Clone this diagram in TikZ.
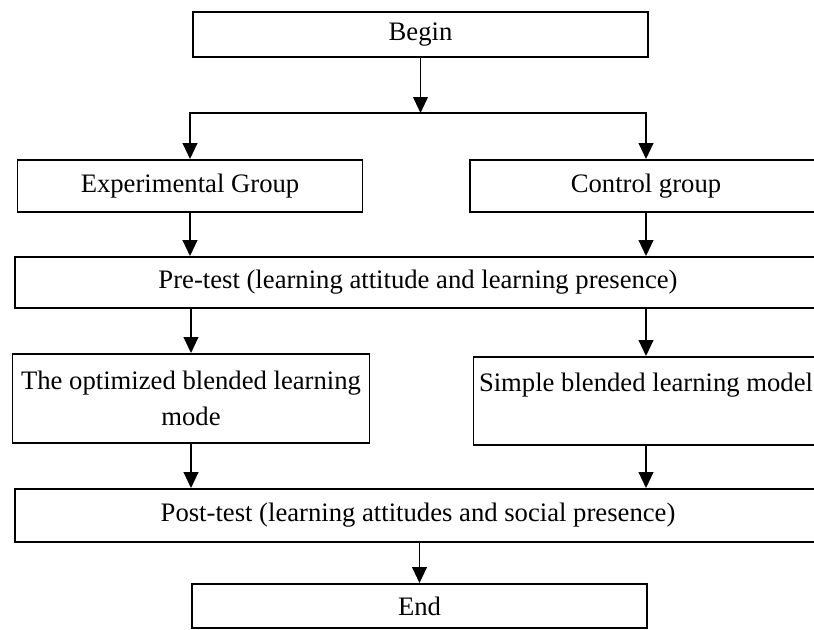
\documentclass[tikz,border=0pt]{standalone}
\usepackage{fontspec}
\setmainfont{Liberation Serif}
\usetikzlibrary{arrows.meta}

\begin{document}
\begin{tikzpicture}[x=0.75pt,y=-0.75pt,line width=1.4pt,>={Triangle[length=12pt,width=11pt]}]
        \tikzstyle{every node}=[font=\fontsize{20}{27.5}\selectfont,inner sep=0pt]
        \tikzstyle{stepbox}=[draw,align=center]
        \useasboundingbox (0,0) rectangle (814,629);
        \clip (0,0) rectangle (814,629);

        % begin
        \node[stepbox,minimum width=341.25pt,minimum height=33.75pt] (begin) at (420.5,34.5) {Begin};
        \coordinate (split) at (420.5,113);
        \draw[->] (begin) -- (split);

        % experimental group
        \node[stepbox,minimum width=258.75pt,minimum height=39pt] (exp) at (190,186) {Experimental Group};
        \draw[->] (split) -| (exp);

        % control group
        \node[stepbox,minimum width=264pt,minimum height=39pt] (ctrl) at (646,186) {Control group};
        \draw[->] (split) -| (ctrl);

        % pre-test
        \node[stepbox,minimum width=604.5pt,minimum height=38.25pt] (pretest) at (418,282.5) {Pre-test (learning attitude and learning presence)};
        \draw[->] (exp) -- (exp |- pretest.north);
        \draw[->] (ctrl) -- (ctrl |- pretest.north);

        % optimized blended learning
        \node[stepbox,minimum width=267.75pt,minimum height=66.75pt] (optimized) at (191,398.5) {The optimized blended learning\\mode};
        \draw[->] (pretest.south -| optimized) -- (optimized);

        % simple blended learning
        \node[stepbox,minimum width=258.75pt,minimum height=66pt] (simple) at (646,401) {Simple blended learning model\\\phantom{mode}};
        \draw[->] (pretest.south -| simple) -- (simple);

        % post-test
        \node[stepbox,minimum width=604.5pt,minimum height=39.75pt] (posttest) at (418,515.5) {Post-test (learning attitudes and social presence)};
        \draw[->] (optimized) -- (optimized |- posttest.north);
        \draw[->] (simple) -- (simple |- posttest.north);

        % end
        \node[stepbox,minimum width=341.25pt,minimum height=33pt] (end) at (419.5,606) {End};
        \draw[->] (posttest.south -| end) -- (end);

    \end{tikzpicture}
\end{document}
